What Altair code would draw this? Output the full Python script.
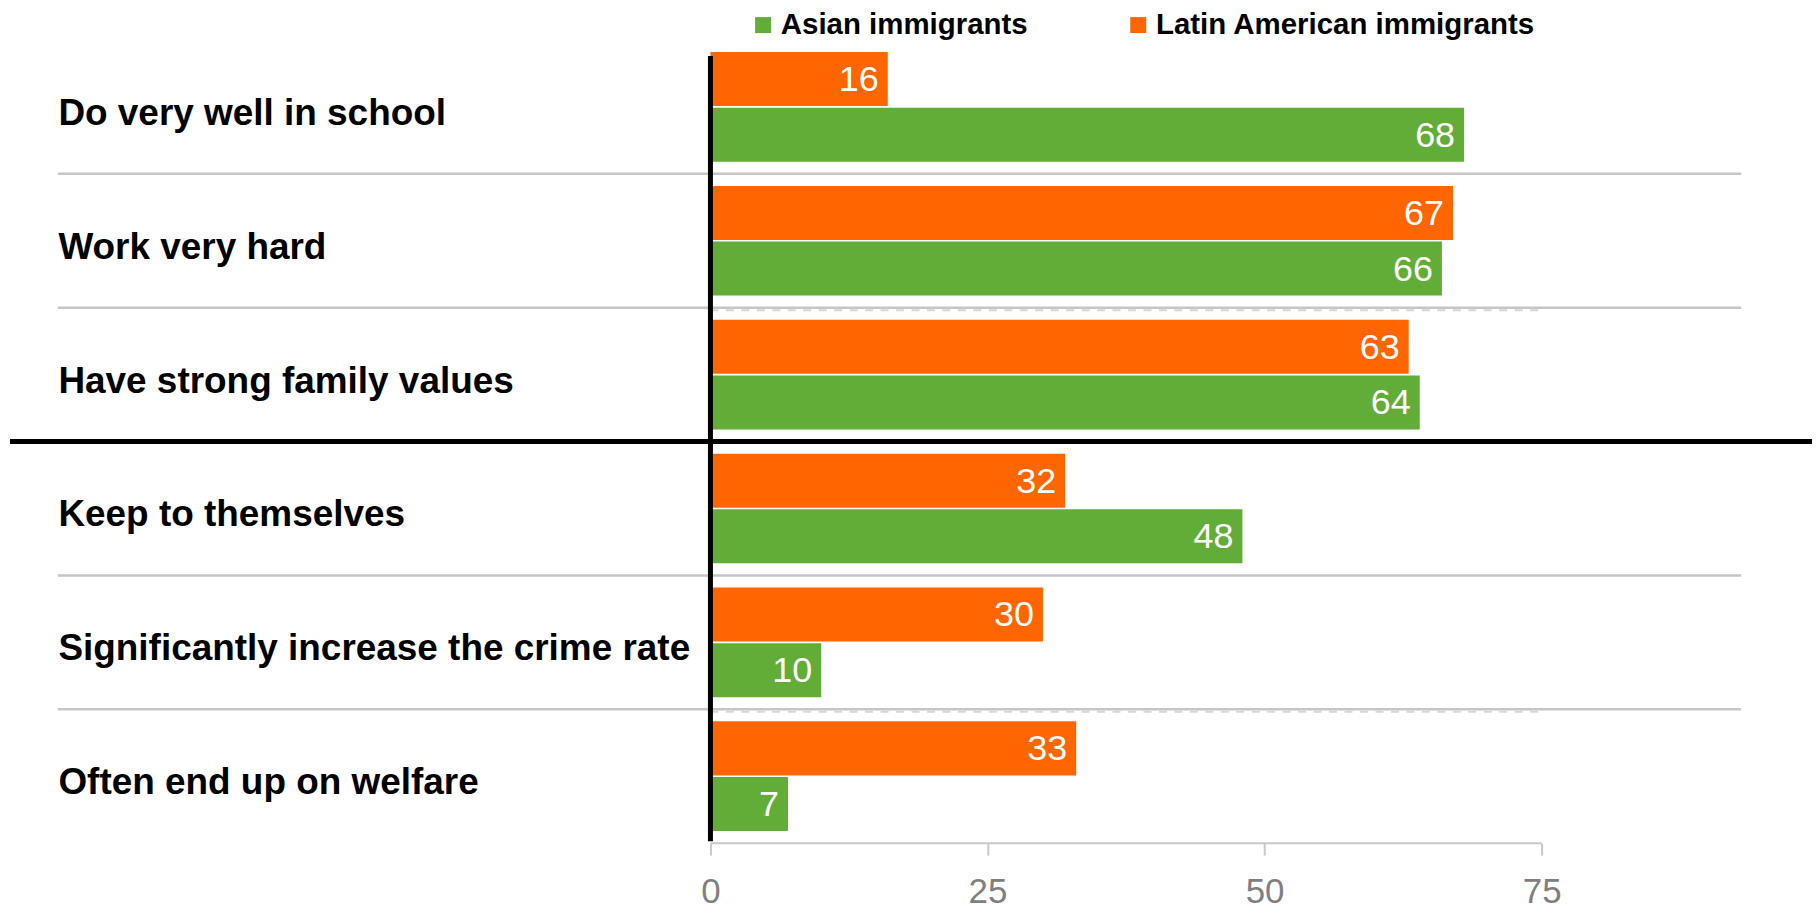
import altair as alt
import pandas as pd

categories = [
    "Do very well in school",
    "Work very hard",
    "Have strong family values",
    "Keep to themselves",
    "Significantly increase the crime rate",
    "Often end up on welfare",
]
series = ["Asian immigrants", "Latin American immigrants"]
asian = [68, 66, 64, 48, 10, 7]
latin = [16, 67, 63, 32, 30, 33]
tick_values = [0, 25, 50, 75]

colors = ["#62AC38", "#FF6600"]

rows = []
for c, a, l in zip(categories, asian, latin):
    rows.append({"cat": c, "group": series[0], "value": a})
    rows.append({"cat": c, "group": series[1], "value": l})
df = pd.DataFrame(rows)

W = 1033
H = 805
FONT = "Liberation Sans"

y_enc = alt.Y(
    "cat:N",
    sort=categories,
    scale=alt.Scale(paddingInner=0, paddingOuter=0),
    axis=alt.Axis(
        title=None, domain=False, ticks=False, tickSize=0,
        labelAlign="left", labelPadding=654, labelBaseline="middle",
        labelFont=FONT, labelFontSize=37, labelFontWeight="bold",
        labelColor="#000000", labelLimit=700, labelOffset=7,
    ),
)
x_enc = alt.X(
    "value:Q",
    scale=alt.Scale(domain=[0, 93], nice=False, zero=True),
    axis=alt.Axis(
        title=None, values=tick_values, domain=False, grid=False,
        tickColor="#c8c8c8", tickSize=12, tickWidth=2,
        labelColor="#7f7f7f", labelFont=FONT, labelFontSize=35,
        labelPadding=19, labelFlush=False, labelOverlap=False,
    ),
)
yoff = alt.YOffset(
    "group:N",
    sort=[series[1], series[0]],
    scale=alt.Scale(paddingInner=0.03, paddingOuter=0.217),
)

base = alt.Chart(df)

bars = base.mark_bar().encode(
    y=y_enc,
    x=x_enc,
    yOffset=yoff,
    color=alt.Color(
        "group:N",
        scale=alt.Scale(domain=series, range=colors),
        legend=alt.Legend(
            title=None, orient="none", direction="horizontal",
            legendX=38, legendY=-30, symbolType="square", symbolSize=256,
            symbolStrokeWidth=0, labelFont=FONT, labelFontSize=29.5,
            labelFontWeight="bold", labelColor="#000000", labelOffset=3,
            columnPadding=95, labelLimit=600, padding=0,
        ),
    ),
)

labels = base.mark_text(
    align="right", baseline="middle", dx=-9, dy=1, color="white",
    font=FONT, fontSize=36,
).encode(
    y=alt.Y("cat:N", sort=categories),
    x=alt.X("value:Q"),
    yOffset=alt.YOffset("group:N", sort=[series[1], series[0]]),
    text=alt.Text("value:Q"),
)

sep_df = pd.DataFrame({"cat": [categories[i] for i in [0, 1, 3, 4]]})
seps = alt.Chart(sep_df).mark_rule(color="#c6c6c6", strokeWidth=2.5).encode(
    y=alt.Y("cat:N", sort=categories, bandPosition=1),
    x=alt.value(-654),
    x2=alt.value(W),
)

dash_df = pd.DataFrame({"cat": [categories[i] for i in [1, 4]]})
dashes = alt.Chart(dash_df).mark_rule(
    color="#d6d6d6", strokeWidth=2, strokeDash=[8, 7.5], yOffset=2.5
).encode(
    y=alt.Y("cat:N", sort=categories, bandPosition=1),
    x=alt.datum(0),
    x2=alt.datum(75),
)

mid_df = pd.DataFrame({"cat": [categories[2]]})
midline = alt.Chart(mid_df).mark_rule(color="#000000", strokeWidth=5).encode(
    y=alt.Y("cat:N", sort=categories, bandPosition=1),
    x=alt.value(-702),
    x2=alt.value(1104),
)

one = pd.DataFrame({"k": [0]})
vline = alt.Chart(one).mark_rule(color="#000000", strokeWidth=5).encode(
    x=alt.datum(0),
    y=alt.value(16),
    y2=alt.value(H - 2),
)
axisline = alt.Chart(one).mark_rule(color="#c8c8c8", strokeWidth=2).encode(
    x=alt.datum(0),
    x2=alt.datum(75),
    y=alt.value(H),
)

chart = alt.layer(seps, dashes, bars, labels, axisline, vline, midline).properties(
    width=W,
    height=H,
    autosize=alt.AutoSizeParams(type="none"),
    padding={"left": 704, "top": 31, "right": 71, "bottom": 69},
).configure_view(stroke=None)

chart.save("out.html", embed_options={"renderer": "svg", "actions": False})
